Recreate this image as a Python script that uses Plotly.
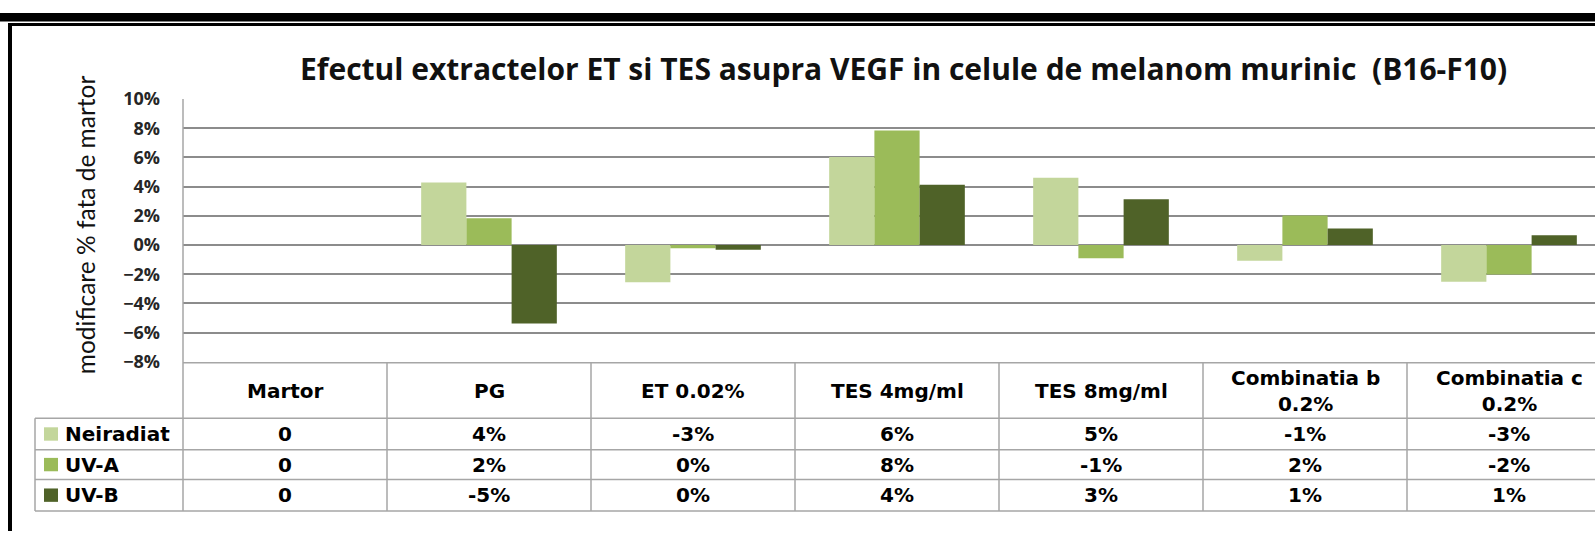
import plotly.graph_objects as go

# ---------------- data ----------------
categories = ["Martor", "PG", "ET 0.02%", "TES 4mg/ml", "TES 8mg/ml",
              "Combinatia b<br>0.2%", "Combinatia c<br>0.2%"]
series_names = ["Neiradiat", "UV-A", "UV-B"]
neiradiat = [0, 0.0428, -0.0255, 0.0602, 0.0461, -0.0107, -0.0252]
uv_a = [0, 0.0183, -0.0022, 0.0785, -0.0091, 0.0202, -0.0202]
uv_b = [0, -0.0538, -0.0032, 0.0413, 0.0313, 0.0113, 0.0067]
series_values = [neiradiat, uv_a, uv_b]
colors = ["#C3D69B", "#9BBB59", "#4F6228"]
y_tick_values = [-0.08, -0.06, -0.04, -0.02, 0.0, 0.02, 0.04, 0.06, 0.08, 0.10]
title_text = "Efectul extractelor ET si TES asupra VEGF in celule de melanom murinic  (B16-F10)"
y_title = "modificare % fata de martor"

# ---------------- geometry (pixels) ----------------
W, H = 1595, 542
plot_left, plot_top, plot_bottom = 183, 90, 365
cat_px = 204.0
table_top, header_bottom = 366, 424
row_lines = [457, 488, 521]
table_left = 35
grid_col = "#8C8C8C"
line_col = "#A6A6A6"


def px(x):
    return x / W


def py(y):
    return 1 - y / H


def fmt(v):
    if v == 0:
        return "0"
    return f"{int(round(v * 100))}%"


fig = go.Figure()
for name, vals, col in zip(series_names, series_values, colors):
    fig.add_trace(go.Bar(x=categories, y=vals, name=name,
                         marker=dict(color=col, line=dict(width=0))))

x_right = -0.5 + (W - plot_left) / cat_px

shapes = []
# top black band and frame
shapes.append(dict(type="rect", xref="paper", yref="paper", x0=0, x1=1,
                   y0=py(9), y1=1, fillcolor="black", line=dict(width=0), layer="above"))
shapes.append(dict(type="rect", xref="paper", yref="paper", x0=px(8), x1=1,
                   y0=py(13.5), y1=py(10.5), fillcolor="black", line=dict(width=0), layer="above"))
shapes.append(dict(type="rect", xref="paper", yref="paper", x0=px(8), x1=px(12),
                   y0=0, y1=py(10.5), fillcolor="black", line=dict(width=0), layer="above"))

# vertical axis line through plot and table
shapes.append(dict(type="line", xref="paper", yref="paper", x0=px(plot_left), x1=px(plot_left),
                   y0=py(plot_top), y1=py(row_lines[-1]), line=dict(color=line_col, width=1.5)))
# table horizontal lines
shapes.append(dict(type="line", xref="paper", yref="paper", x0=px(plot_left), x1=1,
                   y0=py(table_top), y1=py(table_top), line=dict(color=line_col, width=1.5)))
for yy in [header_bottom] + row_lines:
    shapes.append(dict(type="line", xref="paper", yref="paper", x0=px(table_left), x1=1,
                       y0=py(yy), y1=py(yy), line=dict(color=line_col, width=1.5)))
shapes.append(dict(type="line", xref="paper", yref="paper", x0=px(table_left), x1=px(table_left),
                   y0=py(header_bottom), y1=py(row_lines[-1]), line=dict(color=line_col, width=1.5)))
# column separators (category boundaries)
for i in range(len(categories)):
    shapes.append(dict(type="line", xref="x", yref="paper", x0=i + 0.5, x1=i + 0.5,
                       y0=py(table_top), y1=py(row_lines[-1]), line=dict(color=line_col, width=1.5)))

annotations = []
table_font = dict(family="DejaVu Sans", size=20, color="black", weight="bold")
# header row
for i, c in enumerate(categories):
    annotations.append(dict(x=i, y=py((table_top + header_bottom) / 2), xref="x", yref="paper",
                            text=c, showarrow=False, font=table_font, xanchor="center",
                            yanchor="middle"))
# data rows
row_tops = [header_bottom] + row_lines[:-1]
for r, (name, vals, col) in enumerate(zip(series_names, series_values, colors)):
    yc = (row_tops[r] + row_lines[r]) / 2
    shapes.append(dict(type="rect", xref="paper", yref="paper", x0=px(44), x1=px(58),
                       y0=py(yc + 7), y1=py(yc - 7), fillcolor=col, line=dict(width=0)))
    annotations.append(dict(x=px(63), y=py(yc), xref="paper", yref="paper", text=name,
                            showarrow=False, font=table_font, xanchor="left", yanchor="middle"))
    for i, v in enumerate(vals):
        annotations.append(dict(x=i, y=py(yc), xref="x", yref="paper", text=fmt(v),
                                showarrow=False, font=table_font, xanchor="center",
                                yanchor="middle"))

# title
annotations.append(dict(x=px(903), y=py(58), xref="paper", yref="paper", text=title_text,
                        showarrow=False, xanchor="center", yanchor="middle",
                        font=dict(family="Open Sans", size=30, color="#111111", weight="bold")))
# y axis title
annotations.append(dict(x=px(85), y=py(222), xref="paper", yref="paper", text=y_title,
                        showarrow=False, xanchor="center", yanchor="middle", textangle=-90,
                        font=dict(family="Lato", size=24.5, color="#111111")))

fig.update_layout(
    width=W, height=H, autosize=False,
    margin=dict(l=0, r=0, t=0, b=0),
    paper_bgcolor="white", plot_bgcolor="white",
    barmode="group", bargap=0.335, bargroupgap=0,
    showlegend=False,
    shapes=shapes, annotations=annotations,
    xaxis=dict(type="category", domain=[px(plot_left), 1], range=[-0.5, x_right],
               showticklabels=False, showgrid=False, zeroline=False, showline=False,
               ticks=""),
    yaxis=dict(domain=[py(plot_bottom), py(plot_top)], range=[-0.08, 0.10],
               tickvals=y_tick_values, tickformat=".0%", showgrid=True,
               gridcolor=grid_col, gridwidth=1.5, zeroline=False, showline=False,
               ticks="", ticklabelstandoff=22,
               tickfont=dict(family="Open Sans", size=18, color="#262626", weight="bold")),
)

fig.write_html("out.html")
